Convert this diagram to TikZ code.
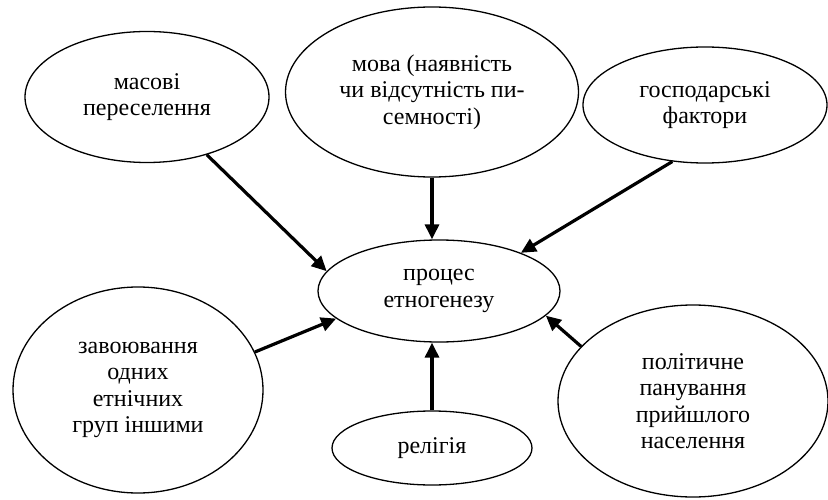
\documentclass[tikz,border=0pt]{standalone}
\usepackage{fontspec}
\setmainfont{Liberation Serif}
\usetikzlibrary{shapes.geometric,arrows.meta}
\begin{document}
\begin{tikzpicture}[x=1pt,y=-1pt,
  oval/.style={ellipse,draw,line width=1.3pt,inner sep=0pt,align=center,
    font=\fontsize{24}{26.5}\selectfont},
  arr/.style={line width=3.2pt,-{Triangle[length=15pt,width=14pt]}}]
\useasboundingbox (0,0) rectangle (828,500);
\node[oval,minimum width=244pt,minimum height=131pt] (A) at (147,97) {масові\\переселення};
\node[oval,minimum width=293pt,minimum height=170pt] (B) at (432,92) {мова (наявність\\чи відсутність пи-\\семності)};
\node[oval,minimum width=244pt,minimum height=116pt] (C) at (705,105) {господарські\\фактори};
\node[oval,minimum width=242pt,minimum height=102pt] (D) at (439,291) {процес\\етногенезу};
\node[oval,minimum width=250pt,minimum height=206pt] (E) at (138,390) {завоювання\\одних\\етнічних\\груп іншими};
\node[oval,minimum width=270pt,minimum height=192pt] (F) at (693,401) {політичне\\панування\\прийшлого\\населення};
\node[oval,minimum width=200pt,minimum height=74pt] (G) at (432,448) {релігія};
\draw[arr] (A.-44) -- (D.170);
\draw[arr] (B.south) -- (B.south |- D.north);
\draw[arr] (C.240) -- (D.25);
\draw[arr] (E.18) -- (D.195);
\draw[arr] (F.154) -- (D.-13);
\draw[arr] (G.north) -- (G.north |- D.south);
\end{tikzpicture}
\end{document}
